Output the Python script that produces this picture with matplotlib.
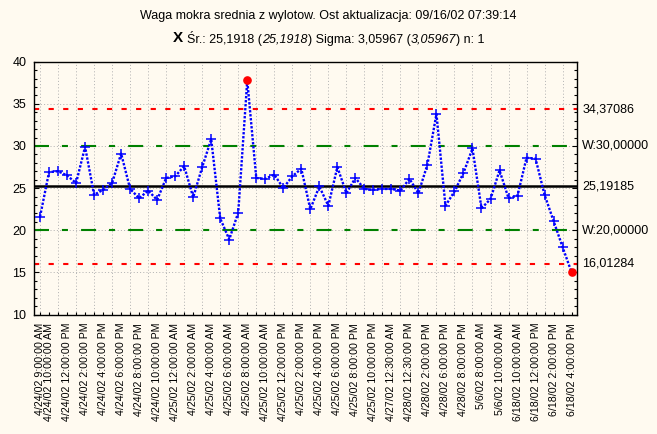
"""X chart: Waga mokra srednia z wylotow (control chart with limits)."""
import matplotlib
matplotlib.use("Agg")
import matplotlib.pyplot as plt  # noqa: E402
from matplotlib.offsetbox import TextArea, HPacker, AnchoredOffsetbox  # noqa: E402

plt.rcParams["font.family"] = ["Liberation Sans", "DejaVu Sans"]

BG = "#FFFAF0"

# sample means, one per sample
values = [21.6, 26.9, 27.0, 26.5, 25.6, 29.9, 24.2, 24.8, 25.6, 29.1,
          24.9, 23.8, 24.7, 23.6, 26.2, 26.4, 27.6, 23.9, 27.5, 30.8,
          21.4, 18.9, 22.1, 37.8, 26.2, 26.1, 26.6, 25.0, 26.4, 27.3,
          22.5, 25.2, 22.9, 27.5, 24.4, 26.2, 24.9, 24.8, 24.9, 24.9,
          24.7, 26.1, 24.4, 27.8, 33.8, 22.9, 24.6, 26.8, 29.7, 22.6,
          23.7, 27.1, 23.8, 24.1, 28.6, 28.5, 24.2, 21.1, 18.0, 15.0]

tick_labels = ["4/24/02 9:00:00 AM", "4/24/02 10:00:00 AM", "4/24/02 12:00:00 PM",
               "4/24/02 2:00:00 PM", "4/24/02 4:00:00 PM", "4/24/02 6:00:00 PM",
               "4/24/02 8:00:00 PM", "4/24/02 10:00:00 PM", "4/25/02 12:00:00 AM",
               "4/25/02 2:00:00 AM", "4/25/02 4:00:00 AM", "4/25/02 6:00:00 AM",
               "4/25/02 8:00:00 AM", "4/25/02 10:00:00 AM", "4/25/02 12:00:00 PM",
               "4/25/02 2:00:00 PM", "4/25/02 4:00:00 PM", "4/25/02 6:00:00 PM",
               "4/25/02 8:00:00 PM", "4/25/02 10:00:00 PM", "4/27/02 12:30:00 AM",
               "4/28/02 12:30:00 PM", "4/28/02 2:00:00 PM", "4/28/02 6:00:00 PM",
               "4/28/02 8:00:00 PM", "5/6/02 8:00:00 AM", "5/6/02 10:00:00 AM",
               "6/18/02 10:00:00 AM", "6/18/02 12:00:00 PM", "6/18/02 2:00:00 PM",
               "6/18/02 4:00:00 PM"]

center = 25.19185
ucl, lcl = 34.37086, 16.01284
warn_hi, warn_lo = 30.0, 20.0
limit_values = [ucl, warn_hi, center, warn_lo, lcl]
limit_labels = ["34,37086", "W:30,00000", "25,19185", "W:20,00000", "16,01284"]

x = list(range(len(values)))
label_pos = [0] + list(range(1, len(values), 2))

fig = plt.figure(figsize=(6.57, 4.34), dpi=100, facecolor=BG)
ax = fig.add_axes([34 / 657, 1 - 314.5 / 434, 543 / 657, (314.5 - 61.7) / 434])
ax.set_facecolor(BG)

# grid
for gx in range(0, len(values), 2):
    ax.axvline(gx, color="#B4B4B4", lw=0.72, ls=(0, (1, 2.2)), zorder=0)
for gy in range(15, 40, 5):
    ax.axhline(gy, color="#B4B4B4", lw=0.72, ls=(0, (1, 2.2)), zorder=0)

# limit lines
ax.axhline(ucl, color="#FF0000", lw=1.5, dashes=(2.5, 4.5), zorder=2)
ax.axhline(lcl, color="#FF0000", lw=1.5, dashes=(2.5, 4.5), zorder=2)
ax.axhline(warn_hi, color="#008000", lw=1.5, dashes=(7.2, 6.2, 2.9, 6.3), zorder=2)
ax.axhline(warn_lo, color="#008000", lw=1.5, dashes=(7.2, 6.2, 2.9, 6.3), zorder=2)
ax.axhline(center, color="black", lw=1.8, zorder=2)

# data
ax.plot(x, values, color="#0000FF", lw=1.7, ls=(0, (1, 0.7)), zorder=3)
ok = [i for i, v in enumerate(values) if lcl <= v <= ucl]
out = [i for i, v in enumerate(values) if v < lcl or v > ucl]
ax.plot([x[i] for i in ok], [values[i] for i in ok], ls="none", marker="+",
        ms=6.5, mew=1.1, color="#0000FF", zorder=4)
ax.plot([x[i] for i in out], [values[i] for i in out], ls="none", marker="o",
        ms=5.2, color="#FF0000", zorder=4)

ax.set_xlim(-0.67, 59.6)
ax.set_ylim(10, 40)
ax.set_yticks(range(10, 41, 5))
ax.set_yticks(range(10, 41, 1), minor=True)
ax.set_xticks(label_pos)
ax.set_xticklabels(tick_labels, rotation=90, fontsize=7.7)
ax.set_xticks(x, minor=True)
ax.tick_params(axis="y", which="both", direction="in", right=True, labelsize=9,
               pad=5.5, width=0.8)
ax.tick_params(axis="y", which="major", length=3.5)
ax.tick_params(axis="y", which="minor", length=2.2)
ax.tick_params(axis="x", which="both", direction="in", length=2.2, width=0.8, pad=6)
for s in ax.spines.values():
    s.set_linewidth(1.0)

for v, lab in zip(limit_values, limit_labels):
    ax.text(1.01, v, lab, transform=ax.get_yaxis_transform(), fontsize=9,
            va="center", ha="left")

# title, two lines
fig.text(0.5, 1 - 16 / 434, "Waga mokra srednia z wylotow. Ost aktualizacja: 09/16/02 07:39:14",
         ha="center", va="center", fontsize=9)
parts = [("X ", dict(size=11, weight="bold")),
         ("Śr.: 25,1918 (", dict(size=9)),
         ("25,1918", dict(size=9, style="italic")),
         (") Sigma: 3,05967 (", dict(size=9)),
         ("3,05967", dict(size=9, style="italic")),
         (") n: 1", dict(size=9))]
areas = [TextArea(t, textprops=dict(color="black", **p)) for t, p in parts]
box = HPacker(children=areas, align="baseline", pad=0, sep=0)
anch = AnchoredOffsetbox(loc="center", child=box, pad=0, borderpad=0, frameon=False,
                         bbox_to_anchor=(0.5, 1 - 38 / 434), bbox_transform=fig.transFigure)
fig.add_artist(anch)

fig.savefig("out.png", dpi=100, facecolor=BG)
